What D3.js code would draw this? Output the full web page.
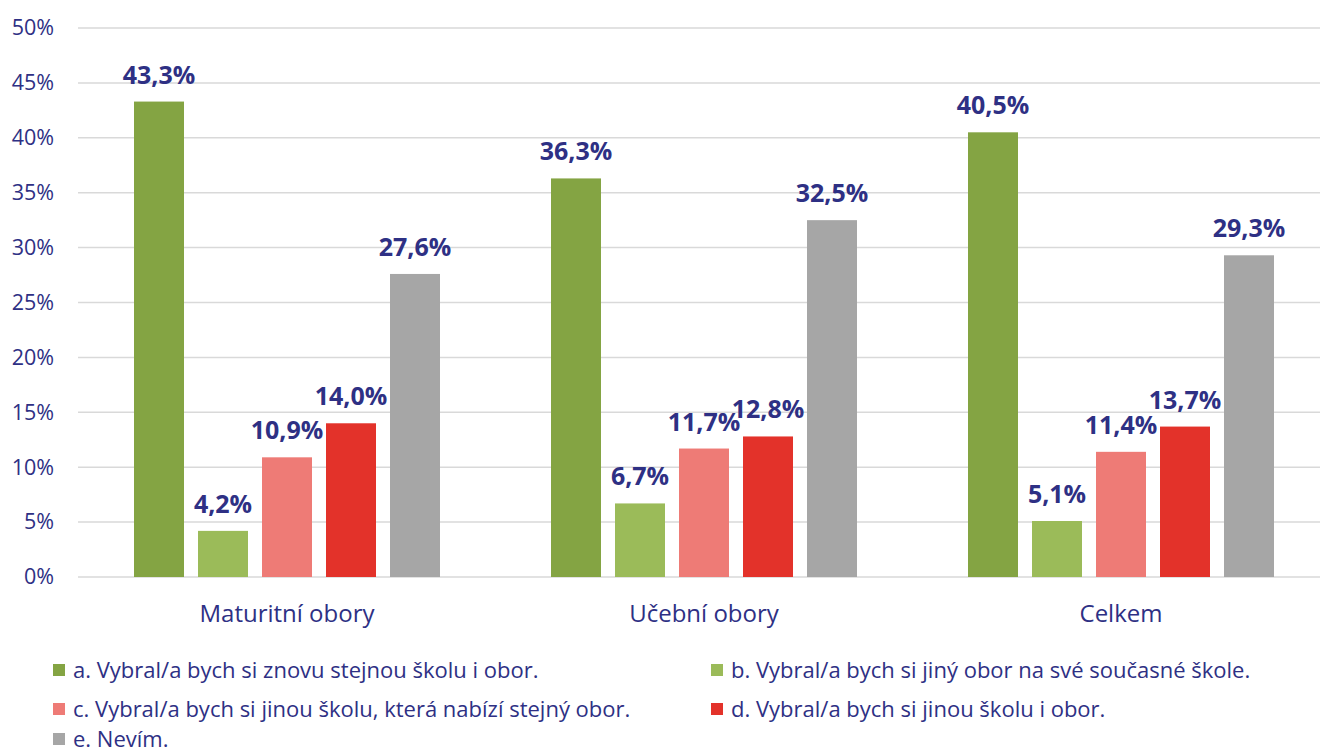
<!DOCTYPE html>
<html><head><meta charset="utf-8">
<script src="https://cdn.jsdelivr.net/npm/d3@7"></script>
<style>
body{margin:0;background:#fff;}
svg text{font-family:"Open Sans",sans-serif;}
</style></head>
<body><svg id="c" width="1320" height="752"></svg>
<script>
const categories = ["Maturitní obory", "Učební obory", "Celkem"];
const seriesNames = [
  "a. Vybral/a bych si znovu stejnou školu i obor.",
  "b. Vybral/a bych si jiný obor na své současné škole.",
  "c. Vybral/a bych si jinou školu, která nabízí stejný obor.",
  "d. Vybral/a bych si jinou školu i obor.",
  "e. Nevím."
];
const seriesA = [43.3, 36.3, 40.5];
const seriesB = [4.2, 6.7, 5.1];
const seriesC = [10.9, 11.7, 11.4];
const seriesD = [14.0, 12.8, 13.7];
const seriesE = [27.6, 32.5, 29.3];
const yTicks = [0, 5, 10, 15, 20, 25, 30, 35, 40, 45, 50];
const colors = ["#84a443", "#9bbb59", "#ee7b76", "#e3322a", "#a6a6a6"];

const series = [seriesA, seriesB, seriesC, seriesD, seriesE];
const textColor = "#2e3084";
const svg = d3.select("#c");

const y = d3.scaleLinear().domain([0, 50]).range([577, 28]);
const x0 = d3.scaleBand().domain(categories).range([78.5, 1329.5]).padding(0);
const x1 = d3.scaleBand().domain(d3.range(5))
  .range([x0.bandwidth()/2 - 160, x0.bandwidth()/2 + 160])
  .paddingInner(14/64).paddingOuter(7/64);

// grid
svg.append("g").selectAll("line").data(yTicks).join("line")
  .attr("x1", 78).attr("x2", 1320)
  .attr("y1", d => y(d)).attr("y2", d => y(d))
  .attr("stroke", "#d9d9d9").attr("stroke-width", 1.5);

// y axis labels
const yAxis = d3.axisLeft(y).tickValues(yTicks).tickFormat(d => d + "%").tickSize(0).tickPadding(0);
const ya = svg.append("g").attr("transform", "translate(54,0)").call(yAxis);
ya.select(".domain").remove();
ya.selectAll("text").attr("fill", textColor).style("font-size", "21.5px")
  .style("font-family", '"Open Sans",sans-serif');

// bars
const groups = svg.append("g").selectAll("g").data(categories).join("g")
  .attr("transform", d => `translate(${x0(d)},0)`);
groups.each(function(cat, ci) {
  const g = d3.select(this);
  series.forEach((s, si) => {
    g.append("rect")
      .attr("x", x1(si)).attr("width", x1.bandwidth())
      .attr("y", y(s[ci])).attr("height", y(0) - y(s[ci]))
      .attr("fill", colors[si]);
    g.append("text")
      .attr("x", x1(si) + x1.bandwidth()/2)
      .attr("y", y(s[ci]) - 18)
      .attr("text-anchor", "middle")
      .attr("fill", textColor)
      .style("font-size", "25px").style("font-weight", "bold")
      .text(s[ci].toFixed(1).replace(".", ",") + "%");
  });
});

// x axis labels
const xAxis = d3.axisBottom(x0).tickSize(0).tickPadding(0);
const xa = svg.append("g").attr("transform", "translate(0,622)").call(xAxis);
xa.select(".domain").remove();
xa.selectAll("text").attr("fill", textColor).attr("dy", 0).style("font-size", "24px")
  .style("font-family", '"Open Sans",sans-serif');

// legend
const legendPos = [[53, 678], [711, 678], [53, 717], [711, 717], [53, 747]];
const lg = svg.append("g").selectAll("g").data(seriesNames).join("g")
  .attr("transform", (d, i) => `translate(${legendPos[i][0]},${legendPos[i][1]})`);
lg.append("rect").attr("x", 0).attr("y", -14).attr("width", 12).attr("height", 12)
  .attr("fill", (d, i) => colors[i]);
lg.append("text").attr("x", 20).attr("y", 0)
  .attr("fill", textColor).style("font-size", "22px")
  .text(d => d);
</script></body></html>
